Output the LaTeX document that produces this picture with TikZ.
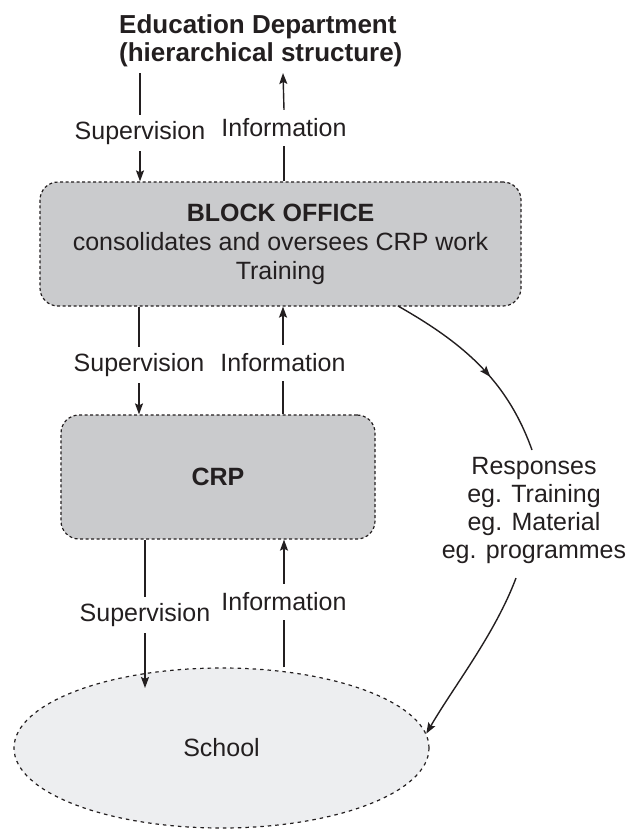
\documentclass[tikz,border=0pt]{standalone}
\usepackage{fontspec}
\setmainfont{Liberation Sans}
\usetikzlibrary{arrows.meta,calc,shapes.geometric,decorations.markings}
\definecolor{ink}{HTML}{231F20}
\definecolor{boxgray}{HTML}{CACBCD}
\definecolor{ellgray}{HTML}{EDEEF0}
\begin{document}
\begin{tikzpicture}[x=1pt,y=-1pt,
  every node/.style={font=\fontsize{25}{28}\selectfont, text=ink},
  lbl/.style={inner xsep=2pt, inner ysep=0pt, minimum height=36pt},
  conn/.style={draw=ink, line width=1.4pt},
  tip/.style={-{Stealth[length=11pt,width=8pt,inset=2pt]}},
  arr/.style={conn, tip},
  midarrow/.style={postaction={decorate}, decoration={markings,
      mark=at position #1 with {\arrow{Stealth[length=11pt,width=8pt,inset=2pt]}}}},
  unitbox/.style={draw=ink, fill=boxgray, line width=1.2pt,
      dash pattern=on 3pt off 2.5pt, rounded corners=18pt, inner sep=0pt, align=center},
  schoolshape/.style={ellipse, draw=ink, fill=ellgray, line width=1.2pt,
      dash pattern=on 3.5pt off 4pt, inner sep=0pt}
]
\useasboundingbox (0,0) rectangle (631,830);

% title
\node[anchor=west, align=left, inner sep=0pt,
      font=\bfseries\fontsize{26}{28}\selectfont] (dept) at (119,41)
  {Education Department\\(hierarchical structure)};
\coordinate (t1) at (140,73);
\coordinate (t2) at (283,73);

% boxes
\node[unitbox, minimum width=481pt, minimum height=124pt,
      font=\fontsize{25}{29}\selectfont] (block) at (280.5,244)
  {\textbf{BLOCK OFFICE}\\consolidates and oversees CRP work\\Training};
\node[unitbox, minimum width=314pt, minimum height=124pt] (crp) at (218,477)
  {\textbf{CRP}};
\node[schoolshape, minimum width=415pt, minimum height=160pt] (school) at (221.5,748)
  {School};

% labels
\node[lbl] (sup1) at (140,133) {Supervision};
\node[lbl] (info1) at (284,128) {Information};
\node[lbl] (sup2) at (139,365) {Supervision};
\node[lbl] (info2) at (283,363) {Information};
\node[lbl] (sup3) at (145,615) {Supervision};
\node[lbl] (info3) at (284,602) {Information};
\node[align=center, inner sep=0pt] (resp) at (534,510)
  {Responses\\eg. Training\\eg. Material\\eg. programmes};

% top connectors
\draw[conn] (t1) -- (sup1.north);
\draw[arr] (sup1.south) -- (sup1.south |- block.north);
\draw[conn] (block.north -| info1) -- (info1.south);
\draw[arr] (info1.north) -- (t2);

% middle connectors
\draw[conn] (block.south -| sup2) -- (sup2.north);
\draw[arr] (sup2.south) -- (sup2.south |- crp.north);
\draw[conn] (crp.north -| info2) -- (info2.south);
\draw[arr] (info2.north) -- (info2.north |- block.south);

% lower connectors
\coordinate (schoolin) at (145,688);
\draw[conn] (crp.south -| sup3) -- (sup3.north);
\draw[arr] (sup3.south) -- (schoolin);
\draw[conn] (info3.south |- school.north) -- (info3.south);
\draw[arr] (info3.north) -- (info3.north |- crp.south);

% responses curves
\coordinate (c1s) at (398,306);
\coordinate (c1e) at (532,450);
\coordinate (c2s) at (516,578);
\draw[conn, midarrow=0.58] (c1s) .. controls (463,343) and (507,380) .. (c1e);
\draw[arr] (c2s) .. controls (495,634) and (454,686) .. (school.4);
\end{tikzpicture}
\end{document}
